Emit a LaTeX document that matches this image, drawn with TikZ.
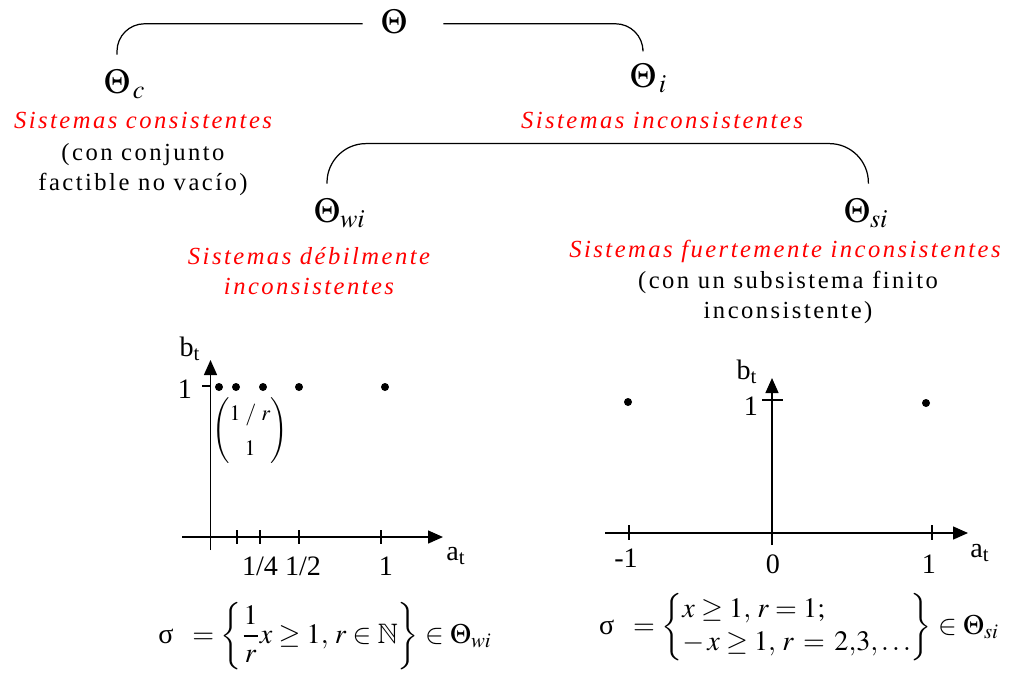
\documentclass[tikz,border=0pt]{standalone}
\usepackage{amsmath}
\usepackage{mathptmx}
\usepackage{amssymb}
\usepackage{fontspec}
\setmainfont{Liberation Serif}
\newfontfamily\spacedfont{Liberation Serif}[LetterSpace=10]
\usetikzlibrary{arrows.meta}
\newcommand{\upsig}{\textrm{σ}}

\begin{document}
\begin{tikzpicture}[bracket/.style={draw, line width=0.7pt, rounded corners=0.55cm}, theta/.style={anchor=base, inner xsep=0pt, inner ysep=8pt, font=\fontsize{20}{24}\selectfont}, redtext/.style={anchor=base, inner sep=0pt, align=center, text=red, font=\fontsize{14}{17}\selectfont\spacedfont\itshape}, desc/.style={anchor=base, inner sep=0pt, align=center, font=\fontsize{14}{17}\selectfont\spacedfont}, axis/.style={-{Triangle[length=0.3cm,width=0.26cm]}, line width=0.8pt}, tick/.style={line width=0.8pt}, dot/.style={circle, fill, inner sep=0pt, minimum size=0.16cm}, num/.style={inner sep=0pt, font=\fontsize{16}{18}\selectfont}, formula/.style={inner sep=0pt, font=\fontsize{16}{19}\selectfont}]
\useasboundingbox (0,0) rectangle (20.38,-13.64);
\node[theta] (th) at (7.88,-0.66) {$\Theta$};
\node[theta] (thc) at (2.34,-1.86) {$\Theta\rlap{$_{\,c}$}$};
\node[theta] (thi) at (12.86,-1.74) {$\Theta\rlap{$_{\,i}$}$};
\draw[bracket, shorten >=0.36cm] (thc.north) |- ([yshift=-0.05cm]th.west);
\draw[bracket, shorten >=0.72cm] (thi.north) |- ([yshift=-0.05cm]th.east);
\node[redtext] (sc) at (2.86,-2.56) {Sistemas consistentes};
\node[desc] (dc) at (2.86,-3.80) {(con conjunto\\factible no vacío)};
\node[redtext] (si) at (13.24,-2.56) {Sistemas inconsistentes};
\node[theta] (thwi) at (6.54,-4.44) {$\Theta\rlap{$_{wi}$}$};
\node[theta] (thsi) at (17.14,-4.44) {$\Theta\rlap{$_{si}$}$};
\draw[bracket, rounded corners=0.78cm] (thwi.north) -- ++(0,0.8) -| ([xshift=-0.04cm]thsi.north east);
\node[redtext] (swi) at (6.18,-5.88) {Sistemas débilmente\\inconsistentes};
\node[redtext] (ssi) at (15.70,-5.14) {Sistemas fuertemente inconsistentes};
\node[desc] (dsi) at (15.76,-6.36) {(con un subsistema finito\\inconsistente)};

\draw[axis] (3.64,-10.74) -- (8.86,-10.74);
\draw[axis] (4.21,-11.00) -- (4.21,-7.20);
\foreach \x in {4.74,5.20,5.98,7.62}
  \draw[tick] (\x,-10.60) -- (\x,-10.88);
\draw[tick] (4.04,-7.72) -- (4.21,-7.72);
\foreach \x in {4.38,4.72,5.26,5.98,7.70}
  \node[dot] at (\x,-7.74) {};
\node[num] (l1) at (3.70,-7.78) {1};
\node[num] (lbt) at (3.80,-6.98) {b\textsubscript{t}};
\node[num] (lat) at (9.12,-11.12) {a\textsubscript{t}};
\node[num] (lq) at (5.20,-11.32) {1/4};
\node[num] (lh) at (6.06,-11.32) {1/2};
\node[num] (lo) at (7.72,-11.32) {1};
\node[inner sep=0pt, font=\fontsize{12.5}{14}\selectfont] (vec) at (5.00,-8.62) {$\renewcommand{\arraystretch}{1.45}\begin{pmatrix}1\;/\;r\\1\end{pmatrix}$};

\draw[axis] (12.10,-10.66) -- (19.36,-10.66);
\draw[axis] (15.44,-10.90) -- (15.44,-7.56);
\foreach \x in {12.58,18.64}
  \draw[tick] (\x,-10.50) -- (\x,-10.80);
\draw[tick] (15.24,-8.00) -- (15.66,-8.00);
\node[dot] at (12.56,-8.04) {};
\node[dot] at (18.52,-8.06) {};
\node[num] (r1) at (15.02,-8.12) {1};
\node[num] (rbt) at (14.94,-7.44) {b\textsubscript{t}};
\node[num] (rat) at (19.60,-11.06) {a\textsubscript{t}};
\node[num] (rm) at (12.52,-11.16) {-1};
\node[num] (rz) at (15.46,-11.28) {0};
\node[num] (ro) at (18.58,-11.28) {1};

\node[formula] (fwi) at (6.50,-12.72) {$\upsig\;\;=\left\{\dfrac{1}{r}x\geq 1,\, r\in\mathbb{N}\right\}\in\Theta_{wi}$};
\node[formula] (fsi) at (15.98,-12.54) {$\upsig\;\;=\left\{\begin{array}{@{}l@{}}x\geq 1,\, r=1;\\-\,x\geq 1,\, r\,=\,2{,}3{,}\ldots\end{array}\right\}\in\Theta_{si}$};
\end{tikzpicture}
\end{document}
